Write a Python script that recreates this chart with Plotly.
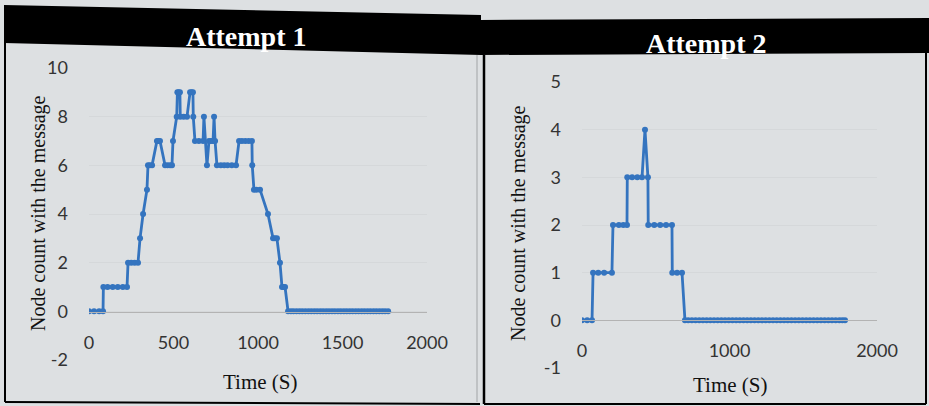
import plotly.graph_objects as go

W, H = 929, 406

# ---------------- data ----------------
t_attempt1 = [0, 30, 60, 83, 85, 110, 140, 170, 200, 225, 231, 250, 270, 290,
              302, 320, 343, 349, 360, 373, 402, 410, 420, 450, 465, 480, 491,
              497, 519, 523, 530, 538, 540, 560, 580, 598, 607, 615, 617, 627,
              650, 675, 680, 698, 710, 722, 734, 740, 746, 757, 780, 800, 820,
              845, 870, 888, 905, 925, 945, 964, 966, 976, 990, 1012, 1059,
              1089, 1100, 1112, 1130, 1142, 1150, 1160, 1178,
              1195, 1210, 1228, 1245, 1262, 1280, 1298, 1315, 1333, 1350, 1368,
              1385, 1403, 1420, 1438, 1455, 1473, 1490, 1508, 1525, 1543, 1560,
              1578, 1595, 1613, 1630, 1648, 1665, 1683, 1700, 1718, 1735, 1752,
              1770]
n_attempt1 = [0, 0, 0, 0, 1, 1, 1, 1, 1, 1, 2, 2, 2, 2,
              3, 4, 5, 6, 6, 6, 7, 7, 7, 6, 6, 6, 6,
              7, 8, 9, 9, 9, 8, 8, 8, 9, 9, 9, 8, 7,
              7, 7, 8, 6, 7, 7, 7, 8, 7, 6, 6, 6, 6,
              6, 6, 7, 7, 7, 7, 7, 6, 5, 5, 5, 4,
              3, 3, 3, 2, 1, 1, 1, 0,
              0, 0, 0, 0, 0, 0, 0, 0, 0, 0, 0,
              0, 0, 0, 0, 0, 0, 0, 0, 0, 0, 0,
              0, 0, 0, 0, 0, 0, 0, 0, 0, 0, 0,
              0]

t_attempt2 = [0, 35, 68, 75, 110, 150, 203, 210, 250, 280, 305, 307, 340, 375,
              407, 427, 447, 449, 490, 530, 570, 610, 612, 645, 678, 698,
              720, 745, 770, 795, 820, 845, 870, 895, 920, 945, 970, 995, 1020,
              1045, 1070, 1095, 1120, 1145, 1170, 1195, 1220, 1245, 1270, 1295,
              1320, 1345, 1370, 1395, 1420, 1445, 1470, 1495, 1520, 1545, 1570,
              1595, 1620, 1645, 1670, 1695, 1720, 1745, 1765, 1783]
n_attempt2 = [0, 0, 0, 1, 1, 1, 1, 2, 2, 2, 2, 3, 3, 3,
              3, 4, 3, 2, 2, 2, 2, 2, 1, 1, 1, 0,
              0, 0, 0, 0, 0, 0, 0, 0, 0, 0, 0, 0, 0,
              0, 0, 0, 0, 0, 0, 0, 0, 0, 0, 0,
              0, 0, 0, 0, 0, 0, 0, 0, 0, 0, 0,
              0, 0, 0, 0, 0, 0, 0, 0, 0]

panel_titles = ["Attempt 1", "Attempt 2"]
x_title = "Time (S)"
y_title = "Node count with the message"
x_ticks_1 = [0, 500, 1000, 1500, 2000]
x_text_1 = ["0", "500", "1000", "1500", "2000"]
y_ticks_1 = [-2, 0, 2, 4, 6, 8, 10]
y_text_1 = ["-2", "0", "2", "4", "6", "8", "10"]
x_ticks_2 = [0, 1000, 2000]
x_text_2 = ["0", "1000", "2000"]
y_ticks_2 = [-1, 0, 1, 2, 3, 4, 5]
y_text_2 = ["-1", "0", "1", "2", "3", "4", "5"]

# ---------------- helpers ----------------
def fx(px):
    return px / W

def fy(py):
    return 1 - py / H

BG = "#dde0e2"
BLUE = "#3474bf"
GRID = "#d5d8da"
TICKFONT = dict(family="Lato, Open Sans, sans-serif", size=18, color="#333333")
SERIF = "Liberation Serif, Times New Roman, serif"

fig = go.Figure()

line_style = dict(color=BLUE, width=2.8)
marker_style = dict(color=BLUE, size=6)

fig.add_trace(go.Scatter(x=t_attempt1, y=n_attempt1, mode="lines+markers",
                         line=line_style, marker=marker_style,
                         xaxis="x", yaxis="y", showlegend=False))
fig.add_trace(go.Scatter(x=t_attempt2, y=n_attempt2, mode="lines+markers",
                         line=line_style, marker=marker_style,
                         xaxis="x2", yaxis="y2", showlegend=False))

common_x = dict(showgrid=False, zeroline=False, showline=True,
                linecolor="#b3b3b3", linewidth=1, ticks="", automargin=False,
                tickfont=TICKFONT, ticklabelstandoff=14, fixedrange=True)
common_y = dict(showgrid=True, gridcolor=GRID, gridwidth=1, zeroline=False,
                showline=False, ticks="", tickfont=TICKFONT, automargin=False,
                ticklabelstandoff=20, fixedrange=True)

fig.update_layout(
    width=W, height=H, autosize=False,
    margin=dict(l=0, r=0, t=0, b=0, pad=0, autoexpand=False),
    paper_bgcolor=BG, plot_bgcolor=BG,
    xaxis=dict(domain=[fx(89), fx(427)], range=[0, 2000],
               tickvals=x_ticks_1, ticktext=x_text_1,
               anchor="free", position=fy(312), **common_x),
    yaxis=dict(domain=[fy(360), fy(68)], range=[-2, 10],
               tickvals=y_ticks_1, ticktext=y_text_1, anchor="x", **common_y),
    xaxis2=dict(domain=[fx(582), fx(877)], range=[0, 2000],
                tickvals=x_ticks_2, ticktext=x_text_2,
                anchor="free", position=fy(320), **common_x),
    yaxis2=dict(domain=[fy(368), fy(82)], range=[-1, 5],
                tickvals=y_ticks_2, ticktext=y_text_2, anchor="x2", **common_y),
)

def path(points):
    return "M " + " L ".join(f"{fx(a):.5f},{fy(b):.5f}" for a, b in points) + " Z"

shapes = []
# title bars (black)
shapes.append(dict(type="path", xref="paper", yref="paper",
                   path=path([(4, 5), (481, 15), (481, 55), (4, 43)]),
                   fillcolor="black", line=dict(width=0), layer="below"))
shapes.append(dict(type="path", xref="paper", yref="paper",
                   path=path([(480, 20), (929, 18), (929, 53), (480, 55)]),
                   fillcolor="black", line=dict(width=0), layer="below"))

def seg(x0, y0, x1, y1, color="black", width=2):
    return dict(type="line", xref="paper", yref="paper",
                x0=fx(x0), y0=fy(y0), x1=fx(x1), y1=fy(y1),
                line=dict(color=color, width=width), layer="above")

# panel frames
shapes.append(seg(5, 43, 5, 402))
shapes.append(seg(5, 402, 480, 404))
shapes.append(seg(477, 55, 477, 402, color="#bfc2c4", width=2))
shapes.append(seg(484, 55, 484, 404, width=2.5))
shapes.append(seg(926, 53, 926, 404, width=2))
shapes.append(seg(484, 404, 926, 404, width=2))
fig.update_layout(shapes=shapes)

ann = []
ann.append(dict(text=f"<b>{panel_titles[0]}</b>", x=fx(247), y=fy(36),
                font=dict(family=SERIF, size=28, color="white")))
ann.append(dict(text=f"<b>{panel_titles[1]}</b>", x=fx(706), y=fy(44),
                font=dict(family=SERIF, size=28, color="white")))
ann.append(dict(text=y_title, x=fx(38), y=fy(213), textangle=-90,
                font=dict(family=SERIF, size=20, color="#111111")))
ann.append(dict(text=y_title, x=fx(518), y=fy(223), textangle=-90,
                font=dict(family=SERIF, size=20, color="#111111")))
ann.append(dict(text=x_title, x=fx(260), y=fy(382),
                font=dict(family=SERIF, size=21, color="#111111")))
ann.append(dict(text=x_title, x=fx(730), y=fy(385),
                font=dict(family=SERIF, size=21, color="#111111")))
for a in ann:
    a.update(xref="paper", yref="paper", showarrow=False,
             xanchor="center", yanchor="middle")
fig.update_layout(annotations=ann)

post = ("document.documentElement.style.margin='0';"
        "document.documentElement.style.overflow='hidden';"
        "document.body.style.margin='0';"
        "document.body.style.overflow='hidden';"
        f"document.body.style.background='{BG}';")

fig.write_html("out.html", config={"displayModeBar": False}, post_script=post)
